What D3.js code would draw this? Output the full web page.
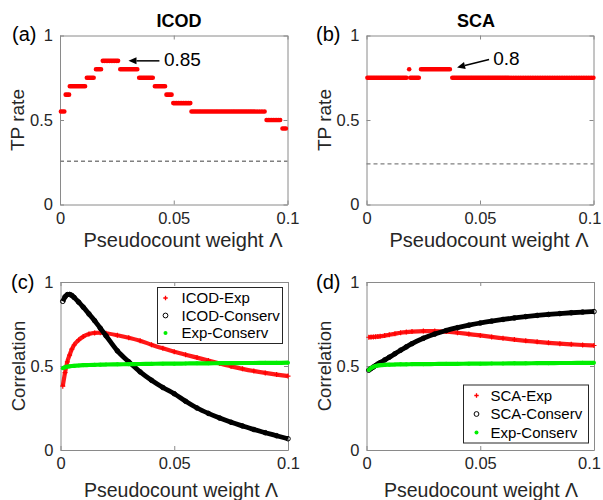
<!DOCTYPE html>
<html><head><meta charset="utf-8">
<script src="https://cdn.jsdelivr.net/npm/d3@7/dist/d3.min.js"></script>
<style>
body{margin:0;background:#fff}
svg{display:block;font-family:"Liberation Sans",Arial,Helvetica,sans-serif}
</style>
</head><body>
<svg id="chart" width="603" height="500"></svg>
<script>
// ---------- data ----------
const xTicks = [0, 0.05, 0.1];
const xTickLabels = ["0", "0.05", "0.1"];
const yTicks = [0, 0.5, 1];
const yTickLabels = ["0", "0.5", "1"];

// (a) ICOD TP rate: step segments [start, end] at value
const icodSegStart = [0.0004, 0.0025, 0.0043, 0.0118, 0.0158, 0.0188, 0.0265, 0.0348, 0.0417, 0.0468, 0.0498, 0.0578, 0.0908, 0.0978];
const icodSegEnd   = [0.0021, 0.0040, 0.0115, 0.0155, 0.0185, 0.0261, 0.0345, 0.0413, 0.0465, 0.0494, 0.0575, 0.0905, 0.0975, 0.1000];
const icodSegTP    = [0.55, 0.65, 0.70, 0.75, 0.80, 0.85, 0.80, 0.75, 0.70, 0.65, 0.60, 0.55, 0.50, 0.45];
const icodRandom = 0.256;

// (b) SCA TP rate
const scaSegStart = [0.0004, 0.0188, 0.0193, 0.0240, 0.0378];
const scaSegEnd   = [0.0177, 0.0188, 0.0233, 0.0374, 0.1000];
const scaSegTP    = [0.75, 0.80, 0.75, 0.80, 0.75];
const scaRandom = 0.24;

// (c),(d) correlations
const corrLambda = [0.001,0.002,0.003,0.004,0.005,0.006,0.008,0.01,0.0125,0.015,0.0175,0.02,0.025,0.03,0.035,0.04,0.045,0.05,0.055,0.06,0.065,0.07,0.075,0.08,0.085,0.09,0.095,0.1];
const icodExp     = [0.38,0.46,0.525,0.565,0.60,0.625,0.655,0.675,0.69,0.697,0.698,0.695,0.683,0.668,0.65,0.627,0.605,0.585,0.567,0.55,0.533,0.515,0.498,0.483,0.47,0.459,0.449,0.44];
const icodConserv = [0.885,0.912,0.925,0.926,0.92,0.908,0.88,0.85,0.81,0.77,0.725,0.68,0.59,0.525,0.465,0.415,0.372,0.335,0.29,0.25,0.218,0.19,0.165,0.143,0.122,0.103,0.085,0.067];
const expConservC = [0.487,0.492,0.496,0.498,0.50,0.501,0.503,0.505,0.506,0.507,0.508,0.509,0.51,0.511,0.512,0.513,0.514,0.514,0.515,0.516,0.516,0.517,0.517,0.518,0.518,0.519,0.519,0.52];
const scaExp      = [0.671,0.672,0.673,0.674,0.675,0.677,0.681,0.686,0.692,0.698,0.702,0.705,0.708,0.708,0.705,0.698,0.69,0.682,0.673,0.665,0.657,0.65,0.644,0.638,0.633,0.629,0.625,0.622];
const scaConserv  = [0.475,0.485,0.494,0.503,0.512,0.52,0.536,0.552,0.573,0.594,0.614,0.633,0.665,0.69,0.711,0.728,0.743,0.756,0.767,0.777,0.786,0.794,0.801,0.807,0.812,0.817,0.821,0.824];
const expConservD = [0.476,0.488,0.495,0.50,0.503,0.505,0.507,0.508,0.509,0.51,0.51,0.511,0.511,0.512,0.513,0.513,0.514,0.514,0.515,0.515,0.516,0.516,0.517,0.517,0.518,0.518,0.519,0.519];

const legendC = ["ICOD-Exp", "ICOD-Conserv", "Exp-Conserv"];
const legendD = ["SCA-Exp", "SCA-Conserv", "Exp-Conserv"];

// ---------- drawing ----------
const svg = d3.select("#chart");
const RED = "#ff0000", GREEN = "#00ee00", BLACK = "#000000";
const AX = "#8a8a8a", TXT = "#262626";

function panel(box, o) {
  const x = d3.scaleLinear().domain([0, 0.1]).range([box.x0, box.x1]);
  const y = d3.scaleLinear().domain([0, 1]).range([box.y1, box.y0]);
  const g = svg.append("g");
  g.append("rect").attr("x", box.x0).attr("y", box.y0)
    .attr("width", box.x1 - box.x0).attr("height", box.y1 - box.y0).attr("fill", "#fff");

  const fmtX = (d, i) => xTickLabels[i];
  const fmtY = (d, i) => yTickLabels[i];
  const ax = [
    g.append("g").attr("transform", `translate(0,${box.y1})`)
      .call(d3.axisBottom(x).tickValues(xTicks).tickFormat(fmtX).tickSizeInner(-4).tickSizeOuter(0).tickPadding(7)),
    g.append("g").attr("transform", `translate(0,${box.y0})`)
      .call(d3.axisTop(x).tickValues(xTicks).tickFormat("").tickSizeInner(-4).tickSizeOuter(0)),
    g.append("g").attr("transform", `translate(${box.x0},0)`)
      .call(d3.axisLeft(y).tickValues(yTicks).tickFormat(fmtY).tickSizeInner(-4).tickSizeOuter(0).tickPadding(7)),
    g.append("g").attr("transform", `translate(${box.x1},0)`)
      .call(d3.axisRight(y).tickValues(yTicks).tickFormat("").tickSizeInner(-4).tickSizeOuter(0))
  ];
  ax.forEach(a => {
    a.selectAll(".domain").attr("stroke", AX).attr("stroke-width", 1);
    a.selectAll(".tick line").attr("stroke", AX);
    a.selectAll("text").attr("fill", TXT).style("font-size", "16.5px").attr("font-family", null);
  });
  ax[0].selectAll("text").attr("dy", "0.75em");
  if (o.shiftLast) ax[0].selectAll(".tick:last-of-type text").attr("x", -o.shiftLast);

  // x label
  g.append("text").attr("x", o.xlabX).attr("y", o.xlabY).attr("text-anchor", "middle")
    .style("font-size", o.xlabSize + "px").attr("fill", TXT).text("Pseudocount weight \u039B");
  // y label
  g.append("text").attr("transform", `translate(${o.ylabX},${(box.y0 + box.y1) / 2}) rotate(-90)`)
    .attr("text-anchor", "middle").style("font-size", o.ylabSize + "px").attr("fill", TXT).text(o.ylabel);
  // panel letter
  g.append("text").attr("x", o.letX).attr("y", o.letY).style("font-size", "20px").attr("fill", "#000").text(o.letter);
  if (o.title) {
    g.append("text").attr("x", o.titleX).attr("y", o.titleY).attr("text-anchor", "middle")
      .style("font-size", "18px").style("font-weight", "bold").attr("fill", "#000").text(o.title);
  }
  return {g, x, y};
}

function stepPanel(box, o, starts, ends, vals, randomLevel, ann) {
  const {g, x, y} = panel(box, o);
  g.append("line").attr("x1", x(0)).attr("x2", x(0.1)).attr("y1", y(randomLevel)).attr("y2", y(randomLevel))
    .attr("stroke", "#808080").attr("stroke-width", 1.3).attr("stroke-dasharray", "4,3");
  const segs = starts.map((s, i) => ({s, e: ends[i], v: vals[i]}));
  g.selectAll(".seg").data(segs).join("line").attr("class", "seg")
    .attr("x1", d => x(d.s)).attr("x2", d => x(d.e) + 0.01)
    .attr("y1", d => y(d.v)).attr("y2", d => y(d.v))
    .attr("stroke", RED).attr("stroke-width", 4.6).attr("stroke-linecap", "round")
    .attr("stroke-dasharray", "0 1.7");
  // annotation arrow
  const x1 = x(ann.tail[0]), y1 = y(ann.tail[1]), x2 = x(ann.head[0]), y2 = y(ann.head[1]);
  const ang = Math.atan2(y2 - y1, x2 - x1);
  const L = 8, W = 3.5;
  const bx = x2 - L * Math.cos(ang), by = y2 - L * Math.sin(ang);
  g.append("line").attr("x1", x1).attr("y1", y1).attr("x2", bx).attr("y2", by)
    .attr("stroke", "#000").attr("stroke-width", 1.5);
  g.append("path").attr("d", `M${x2},${y2}L${bx - W * Math.sin(ang)},${by + W * Math.cos(ang)}L${bx + W * Math.sin(ang)},${by - W * Math.cos(ang)}Z`)
    .attr("fill", "#000");
  g.append("text").attr("x", x(ann.text[0])).attr("y", y(ann.text[1])).attr("dy", "0.35em")
    .style("font-size", "19px").attr("fill", "#000").text(ann.label);
}

function corrPanel(box, o, series, legendNames, leg) {
  const {g, x, y} = panel(box, o);
  const line = d3.line().x((d, i) => x(corrLambda[i])).y(d => y(d)).curve(d3.curveMonotoneX);
  // red plus series
  g.append("path").attr("d", line(series[0])).attr("fill", "none").attr("stroke", RED).attr("stroke-width", 4.2).attr("stroke-opacity", 0.9);
  g.selectAll(".pl").data(series[0]).join("path").attr("class", "pl")
    .attr("d", (d, i) => { const cx = x(corrLambda[i]), cy = y(d); return `M${cx-2.5},${cy}H${cx+2.5}M${cx},${cy-2.5}V${cy+2.5}`; })
    .attr("stroke", RED).attr("stroke-width", 1.2);
  // black circle series
  g.append("path").attr("d", line(series[1])).attr("fill", "none").attr("stroke", BLACK).attr("stroke-width", 4.8);
  g.selectAll(".ci").data(series[1]).join("circle").attr("class", "ci")
    .attr("cx", (d, i) => x(corrLambda[i])).attr("cy", d => y(d)).attr("r", 2.3)
    .attr("fill", "none").attr("stroke", BLACK).attr("stroke-width", 1);
  // green dot series
  g.append("path").attr("d", line(series[2])).attr("fill", "none").attr("stroke", GREEN).attr("stroke-width", 4.2);
  g.selectAll(".gd").data(series[2]).join("circle").attr("class", "gd")
    .attr("cx", (d, i) => x(corrLambda[i])).attr("cy", d => y(d)).attr("r", 2)
    .attr("fill", GREEN);

  // legend
  const lg = g.append("g");
  lg.append("rect").attr("x", leg.x).attr("y", leg.y).attr("width", leg.w).attr("height", leg.h)
    .attr("fill", "#fff").attr("stroke", "#262626").attr("stroke-width", 1);
  legendNames.forEach((name, i) => {
    const cy = leg.y + leg.first + i * leg.step, cx = leg.x + leg.mx;
    if (i === 0) lg.append("path").attr("d", `M${cx-2.2},${cy}H${cx+2.2}M${cx},${cy-2.2}V${cy+2.2}`).attr("stroke", RED).attr("stroke-width", 1.3);
    if (i === 1) lg.append("circle").attr("cx", cx).attr("cy", cy).attr("r", 2.4).attr("fill", "none").attr("stroke", BLACK).attr("stroke-width", 1);
    if (i === 2) lg.append("circle").attr("cx", cx).attr("cy", cy).attr("r", 2).attr("fill", GREEN);
    lg.append("text").attr("x", leg.x + leg.tx).attr("y", cy).attr("dy", "0.35em")
      .style("font-size", "15px").attr("fill", "#000").text(name);
  });
}

const boxA = {x0: 60, x1: 287.5, y0: 35.5, y1: 204.5};
const boxB = {x0: 366.5, x1: 593.5, y0: 35.5, y1: 204.5};
const boxC = {x0: 60.5, x1: 288, y0: 282, y1: 450};
const boxD = {x0: 366.5, x1: 594, y0: 282, y1: 450};

stepPanel(boxA, {xlabX: 183, xlabY: 247, xlabSize: 20, ylabX: 24, ylabSize: 19, ylabel: "TP rate",
  letX: 12, letY: 41, letter: "(a)", title: "ICOD", titleX: 179, titleY: 27},
  icodSegStart, icodSegEnd, icodSegTP, icodRandom,
  {tail: [0.0437, 0.85], head: [0.0301, 0.85], text: [0.0457, 0.857], label: "0.85"});

stepPanel(boxB, {xlabX: 489, xlabY: 247, xlabSize: 20, ylabX: 331, ylabSize: 19, ylabel: "TP rate",
  letX: 316, letY: 41, letter: "(b)", title: "SCA", titleX: 476, titleY: 27, shiftLast: 4},
  scaSegStart, scaSegEnd, scaSegTP, scaRandom,
  {tail: [0.054, 0.858], head: [0.0399, 0.811], text: [0.0558, 0.866], label: "0.8"});

corrPanel(boxC, {xlabX: 181, xlabY: 497, xlabSize: 19.5, ylabX: 25, ylabSize: 18.5, ylabel: "Correlation",
  letX: 11, letY: 289, letter: "(c)"},
  [icodExp, icodConserv, expConservC], legendC,
  {x: 157.5, y: 287.5, w: 125, h: 56, first: 10.5, step: 17.5, mx: 8, tx: 24});

corrPanel(boxD, {xlabX: 481, xlabY: 497, xlabSize: 19.5, ylabX: 331, ylabSize: 18.5, ylabel: "Correlation",
  letX: 316, letY: 289, letter: "(d)", shiftLast: 5},
  [scaExp, scaConserv, expConservD], legendD,
  {x: 463.5, y: 385, w: 125, h: 58, first: 10.5, step: 18.5, mx: 13, tx: 27});
</script>
</body></html>
